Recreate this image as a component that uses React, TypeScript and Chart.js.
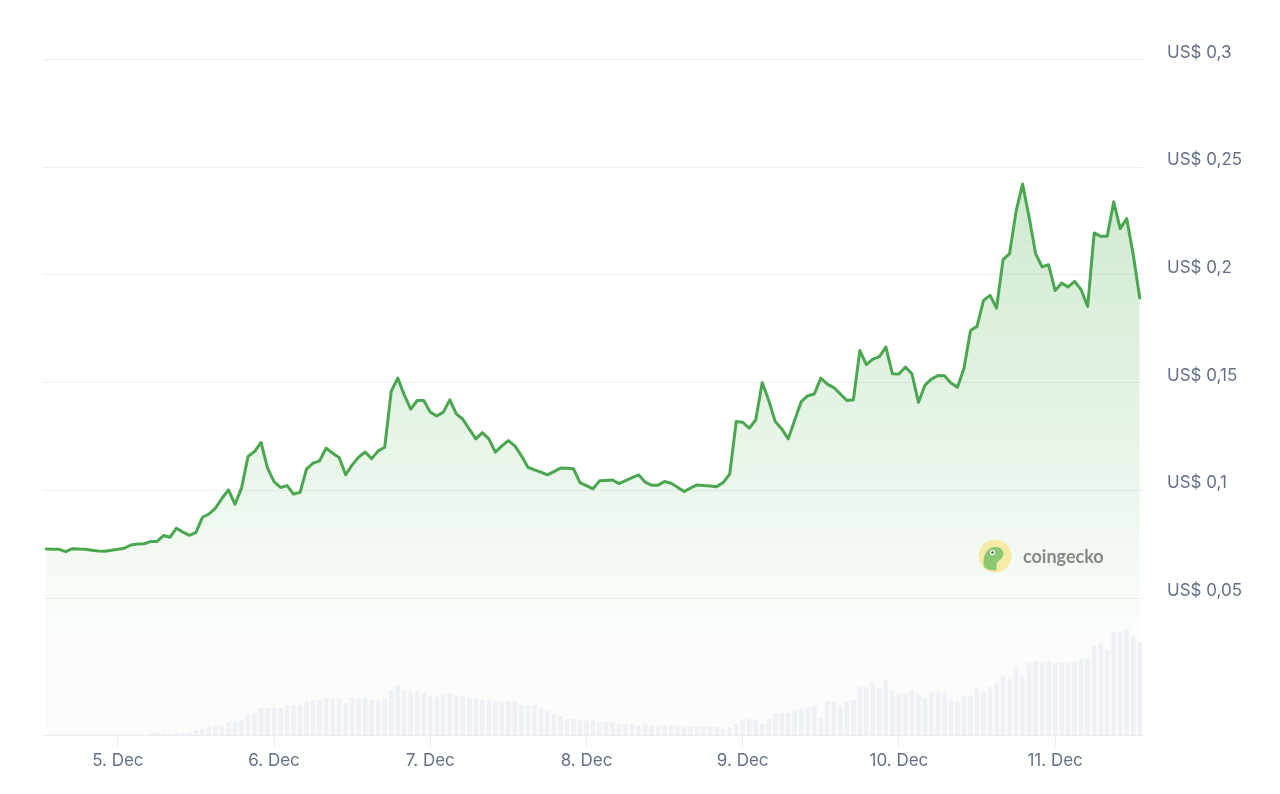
import React, { useEffect, useRef } from 'react';
import { Chart, registerables } from 'chart.js';

Chart.register(...registerables);

// hours relative to 5 Dec 00:00 of the first hourly sample
const FIRST_HOUR = -11;

// hourly price (USD)
const PRICE = [
  0.0727, 0.0726, 0.0726, 0.0715, 0.0729, 0.0727, 0.0726, 0.0722, 0.0718, 0.0717,
  0.0722, 0.0726, 0.0731, 0.0746, 0.0751, 0.0752, 0.0762, 0.0762, 0.0790, 0.0782,
  0.0824, 0.0806, 0.0791, 0.0805, 0.0875, 0.0890, 0.0917, 0.0963, 0.1002, 0.0935,
  0.1010, 0.1157, 0.1180, 0.1222, 0.1103, 0.1040, 0.1013, 0.1022, 0.0982, 0.0991,
  0.1100, 0.1126, 0.1137, 0.1196, 0.1172, 0.1152, 0.1072, 0.1118, 0.1154, 0.1178,
  0.1147, 0.1183, 0.1200, 0.1459, 0.1521, 0.1443, 0.1377, 0.1417, 0.1417, 0.1363,
  0.1345, 0.1363, 0.1420, 0.1355, 0.1330, 0.1284, 0.1239, 0.1268, 0.1239, 0.1177,
  0.1206, 0.1231, 0.1206, 0.1160, 0.1107, 0.1095, 0.1084, 0.1072, 0.1087, 0.1103,
  0.1102, 0.1100, 0.1036, 0.1022, 0.1007, 0.1044, 0.1046, 0.1048, 0.1031, 0.1045,
  0.1059, 0.1072, 0.1038, 0.1024, 0.1024, 0.1041, 0.1033, 0.1014, 0.0994, 0.1011,
  0.1025, 0.1022, 0.1020, 0.1017, 0.1036, 0.1075, 0.1319, 0.1316, 0.1288, 0.1327,
  0.1500, 0.1417, 0.1319, 0.1285, 0.1239, 0.1327, 0.1412, 0.1439, 0.1447, 0.1521,
  0.1493, 0.1477, 0.1447, 0.1417, 0.1420, 0.1649, 0.1583, 0.1609, 0.1621, 0.1665,
  0.1541, 0.1540, 0.1572, 0.1541, 0.1408, 0.1488, 0.1516, 0.1533, 0.1532, 0.1498,
  0.1479, 0.1567, 0.1742, 0.1761, 0.1882, 0.1905, 0.1846, 0.2071, 0.2099, 0.2295,
  0.2422, 0.2269, 0.2099, 0.2037, 0.2047, 0.1927, 0.1962, 0.1944, 0.1970, 0.1931,
  0.1854, 0.2195, 0.2179, 0.2179, 0.2339, 0.2215, 0.2261, 0.2094, 0.1893,
];

// hourly traded volume (relative units)
const VOLUME = [
  0, 0, 0, 0, 0, 0, 0, 0, 0, 0,
  0, 0, 0, 0, 0, 0, 1.8, 1.8, 1.8, 1.1,
  2.9, 2.9, 2.9, 4.6, 6.1, 7.9, 9.3, 9.3, 12.9, 12.9,
  14.6, 20.4, 22, 27, 27, 27, 27, 30, 30, 30,
  33.6, 35, 35, 36.8, 36.8, 36.8, 32, 36.8, 36.8, 36.8,
  35, 35, 36.8, 45, 50, 45, 43.6, 43.6, 41.8, 38.2,
  38.2, 40, 41.8, 40, 38.6, 36.8, 36.8, 35, 35, 33.6,
  33.6, 33.6, 33.6, 30, 30, 30, 27, 24, 20.7, 19,
  15.7, 15.7, 14.3, 14.3, 14.3, 12.9, 12.9, 12.9, 11.1, 11.1,
  11.1, 9.3, 11.1, 9.3, 9.3, 9.3, 9.3, 9.3, 7.9, 7.9,
  7.9, 7.9, 7.9, 7.9, 6.1, 7.9, 11.1, 14.6, 16.1, 14.6,
  11.1, 16.1, 22.1, 22.1, 22.1, 24.3, 27.1, 28.6, 28.6, 17.1,
  33.6, 33.6, 28.6, 33.6, 35, 47.9, 47.9, 51.4, 46.4, 54.3,
  45, 41.8, 41.8, 45, 41.8, 36.8, 43.2, 43.2, 41.8, 35,
  33.6, 38.2, 38.2, 46.4, 43.2, 47.9, 51.4, 59.3, 56.1, 65.7,
  59.3, 72.1, 73.6, 72.1, 73.6, 72.1, 72.1, 72.1, 73.6, 75.4,
  77.1, 88.6, 91.4, 85, 102.9, 102.9, 105.7, 99.3, 93.2,
];

const DAY_TICKS = [0, 24, 48, 72, 96, 120, 144];
const DAY_LABELS = ['5. Dec', '6. Dec', '7. Dec', '8. Dec', '9. Dec', '10. Dec', '11. Dec'];
const PRICE_TICKS = [0.05, 0.1, 0.15, 0.2, 0.25, 0.3];
const PRICE_LABELS = ['US$ 0,05', 'US$ 0,1', 'US$ 0,15', 'US$ 0,2', 'US$ 0,25', 'US$ 0,3'];

const X_MIN = -11.5;
const X_MAX = 157.5;
const PRICE_MIN = -0.0136;
const PRICE_MAX = 0.3;
const VOLUME_AXIS_MAX = 675.5;

const LABEL_COLOR = '#64708a';
const LINE_COLOR = '#4aa64f';
const FONT = { family: 'Inter', size: 17 };

export default function App() {
  const canvasRef = useRef<HTMLCanvasElement | null>(null);

  useEffect(() => {
    const canvas = canvasRef.current;
    if (!canvas) return;
    const priceData = PRICE.map((v, i) => ({ x: FIRST_HOUR + i, y: v }));
    const volumeData = VOLUME.map((v, i) => ({ x: FIRST_HOUR + i, y: v }));

    const chart = new Chart(canvas, {
      type: 'bar',
      data: {
        datasets: [
          {
            type: 'bar',
            data: volumeData as any,
            yAxisID: 'yv',
            backgroundColor: '#eef0f5',
            barPercentage: 0.72,
            categoryPercentage: 1,
          } as any,
          {
            type: 'line',
            data: priceData as any,
            yAxisID: 'y',
            borderColor: LINE_COLOR,
            borderWidth: 3,
            borderJoinStyle: 'round',
            borderCapStyle: 'round',
            pointRadius: 0,
            tension: 0,
            fill: 'start',
            backgroundColor: (ctx: any) => {
              const c = ctx.chart;
              const area = c.chartArea;
              const ys = c.scales && c.scales.y;
              if (!area || !ys) return 'rgba(76,175,80,0.1)';
              const y0 = ys.getPixelForValue(0.25);
              const y1 = ys.getPixelForValue(0.035);
              if (!isFinite(y0) || !isFinite(y1) || y0 === y1) return 'rgba(76,175,80,0.1)';
              const g = c.ctx.createLinearGradient(0, y0, 0, y1);
              g.addColorStop(0, 'rgba(76,175,80,0.28)');
              g.addColorStop(1, 'rgba(76,175,80,0.03)');
              return g;
            },
          } as any,
        ],
      },
      options: {
        responsive: false,
        animation: false,
        events: [],
        layout: { padding: { left: 35, top: 51.5, right: 0, bottom: 0 } },
        plugins: { legend: { display: false }, tooltip: { enabled: false } },
        scales: {
          x: {
            type: 'linear',
            min: X_MIN,
            max: X_MAX,
            offset: false,
            afterBuildTicks: (s: any) => {
              s.ticks = DAY_TICKS.map((v) => ({ value: v }));
            },
            afterFit: (s: any) => {
              s.height = 51;
            },
            ticks: {
              autoSkip: false,
              maxRotation: 0,
              padding: 4,
              color: LABEL_COLOR,
              font: FONT,
              callback: (_v: any, i: number) => DAY_LABELS[i],
            },
            grid: {
              offset: false,
              drawOnChartArea: false,
              drawTicks: true,
              tickLength: 12,
              color: '#ececf0',
            },
            border: { display: true, color: '#ececf0' },
          },
          y: {
            position: 'right',
            min: PRICE_MIN,
            max: PRICE_MAX,
            afterBuildTicks: (s: any) => {
              s.ticks = PRICE_TICKS.map((v) => ({ value: v }));
            },
            afterFit: (s: any) => {
              s.width = 129;
            },
            ticks: {
              padding: 24,
              labelOffset: -7,
              color: LABEL_COLOR,
              font: FONT,
              callback: (_v: any, i: number) => PRICE_LABELS[i],
            },
            grid: { color: '#eeeff2', drawTicks: false },
            border: { display: false },
          },
          yv: {
            display: false,
            min: 0,
            max: VOLUME_AXIS_MAX,
          },
        },
      } as any,
    });
    return () => chart.destroy();
  }, []);

  return (
    <div style={{ position: 'relative', width: 1264, height: 778 }}>
      <canvas ref={canvasRef} width={1264} height={778} />
      <div
        style={{
          position: 'absolute',
          left: 970,
          top: 531,
          display: 'flex',
          alignItems: 'center',
          gap: 11,
          pointerEvents: 'none',
        }}
      >
        <svg width={34} height={34} viewBox="0 0 34 34">
          <circle cx={17} cy={17} r={16.5} fill="#f6eaa6" />
          <path
            d="M6 28 C4 18 8 9 16 8 C23 7.5 27 12 25 17 C23.5 21 19 21.5 18.5 26 L18.5 31 C13 31.5 8.5 30.5 6 28 Z"
            fill="#8cc774"
          />
          <circle cx={14.5} cy={13.5} r={2.6} fill="#ffffff" />
          <circle cx={14.5} cy={13.5} r={1.3} fill="#4a5a3a" />
        </svg>
        <span
          style={{
            fontFamily: 'Lato, sans-serif',
            fontWeight: 700,
            fontSize: 18,
            color: 'rgba(115,115,115,0.85)',
            lineHeight: '20px',
          }}
        >
          coingecko
        </span>
      </div>
    </div>
  );
}
